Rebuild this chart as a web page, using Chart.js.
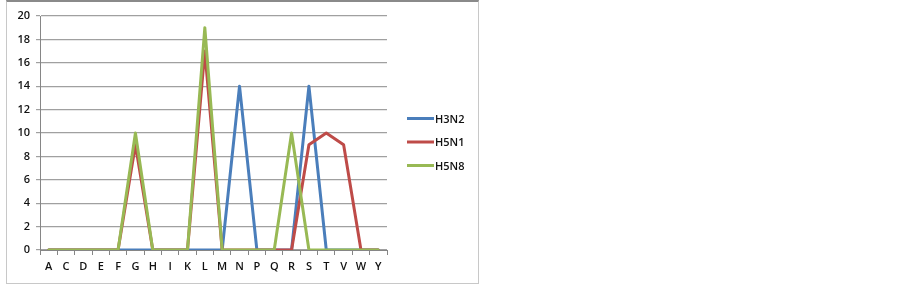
<!DOCTYPE html>
<html>
<head>
<meta charset="utf-8">
<script src="https://cdn.jsdelivr.net/npm/chart.js@4/dist/chart.umd.min.js"></script>
<style>
  html, body { margin: 0; padding: 0; background: #fff; width: 903px; height: 284px; overflow: hidden; }
  #frame { position: absolute; left: 6px; top: 0px; width: 471px; height: 281px;
           border: 1px solid #c8c8c8; border-top: 2px solid #8a8a8a; }
  #wrap { position: absolute; left: 0; top: 0; width: 471px; height: 281px; }
</style>
</head>
<body>
<div id="frame"><div id="wrap"><canvas id="c"></canvas></div></div>
<script>
const categories = ["A","C","D","E","F","G","H","I","K","L","M","N","P","Q","R","S","T","V","W","Y"];
const seriesNames = ["H3N2","H5N1","H5N8"];
const h3n2 = [0,0,0,0,0,0,0,0,0,0,0,14,0,0,0,14,0,0,0,0];
const h5n1 = [0,0,0,0,0,9,0,0,0,17,0,0,0,0,0,9,10,9,0,0];
const h5n8 = [0,0,0,0,0,10,0,0,0,19,0,0,0,0,10,0,0,0,0,0];
const yTicks = [0,2,4,6,8,10,12,14,16,18,20];
const colors = ["#4a7ebb","#be4b48","#98b954"];

const FONT = "'Open Sans', 'Liberation Sans', Arial, sans-serif";

const legendPlugin = {
  id: 'sideLegend',
  afterDraw(chart) {
    const ctx = chart.ctx;
    const ca = chart.chartArea;
    const midY = chart.height / 2;
    ctx.save();
    chart.data.datasets.forEach((ds, i) => {
      const y = midY - 24 + i * 23.5;
      const x0 = ca.right + 20;
      ctx.strokeStyle = ds.borderColor;
      ctx.lineWidth = 3;
      ctx.beginPath();
      ctx.moveTo(x0, y);
      ctx.lineTo(x0 + 27, y);
      ctx.stroke();
      ctx.fillStyle = '#111';
      ctx.font = "600 11px " + FONT;
      ctx.textBaseline = 'middle';
      ctx.textAlign = 'left';
      ctx.fillText(ds.label, x0 + 28, y + 1);
    });
    ctx.restore();
  }
};

new Chart(document.getElementById('c'), {
  type: 'line',
  data: {
    labels: categories,
    datasets: [
      { label: seriesNames[0], data: h3n2, borderColor: colors[0], backgroundColor: colors[0], order: 3 },
      { label: seriesNames[1], data: h5n1, borderColor: colors[1], backgroundColor: colors[1], order: 2 },
      { label: seriesNames[2], data: h5n8, borderColor: colors[2], backgroundColor: colors[2], order: 1 }
    ]
  },
  options: {
    responsive: true,
    maintainAspectRatio: false,
    animation: false,
    devicePixelRatio: 1,
    elements: {
      line: { borderWidth: 3, tension: 0, borderJoinStyle: 'round', borderCapStyle: 'round' },
      point: { radius: 0, hoverRadius: 0 }
    },
    layout: { padding: { top: 14, right: 91, bottom: 0, left: 0 } },
    plugins: {
      legend: { display: false },
      tooltip: { enabled: false }
    },
    scales: {
      x: {
        offset: true,
        grid: { display: true, drawOnChartArea: false, drawTicks: true, tickLength: 5, offset: true, color: '#868686' },
        border: { display: true, color: '#868686', width: 1 },
        ticks: { color: '#111', font: { family: FONT, size: 11, weight: '600' }, padding: 5, maxRotation: 0, autoSkip: false },
        afterFit: s => { s.height = 33; }
      },
      y: {
        min: 0, max: 20,
        afterBuildTicks: s => { s.ticks = yTicks.map(v => ({ value: v })); },
        grid: { color: '#a0a0a0', lineWidth: 1.2, drawTicks: true, tickLength: 4 },
        border: { display: true, color: '#868686', width: 1 },
        ticks: { color: '#111', font: { family: FONT, size: 11, weight: '600' }, padding: 6 },
        afterFit: s => { s.width = 33; }
      }
    }
  },
  plugins: [legendPlugin]
});
</script>
</body>
</html>
